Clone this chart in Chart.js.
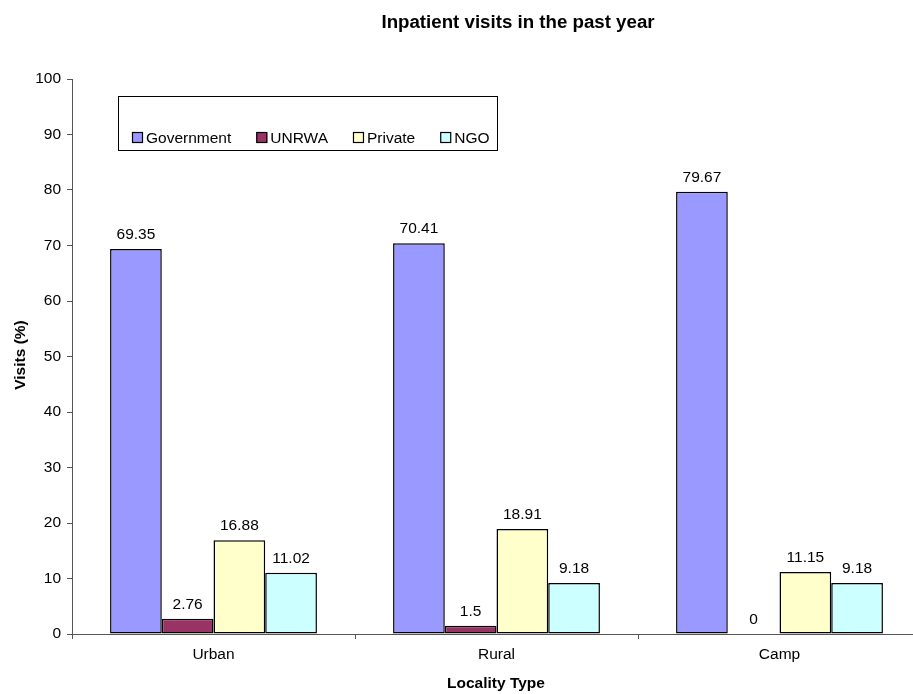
<!DOCTYPE html>
<html>
<head>
<meta charset="utf-8">
<script src="https://cdn.jsdelivr.net/npm/chart.js@4/dist/chart.umd.min.js"></script>
<style>
  html, body { margin: 0; padding: 0; background: #fff; overflow: hidden; }
  #wrap { width: 921px; height: 694px; }
</style>
</head>
<body>
<div id="wrap"><canvas id="c" width="921" height="694"></canvas></div>
<script>
const categories = ["Urban", "Rural", "Camp"];
const government = [69.35, 70.41, 79.67];
const unrwa = [2.76, 1.5, 0];
const privateSector = [16.88, 18.91, 11.15];
const ngo = [11.02, 9.18, 9.18];
const seriesNames = ["Government", "UNRWA", "Private", "NGO"];
const seriesColors = ["#9999FF", "#993366", "#FFFFCC", "#CCFFFF"];
const chartTitle = "Inpatient visits in the past year";
const yTitle = "Visits (%)";
const xTitle = "Locality Type";

const FONT = "Arial, 'Liberation Sans', sans-serif";
const FS = 15.5;

const seriesValues = [government, unrwa, privateSector, ngo];
const datasets = seriesValues.map((vals, i) => ({
  label: seriesNames[i],
  data: vals,
  backgroundColor: seriesColors[i],
  borderColor: "#000",
  borderWidth: 1.5,
  borderSkipped: false,
  categoryPercentage: 0.731,
  barPercentage: 1.0
}));

const decorPlugin = {
  id: "decor",
  afterDatasetsDraw(chart) {
    const ctx = chart.ctx;
    ctx.save();
    // data labels
    ctx.font = FS + "px " + FONT;
    ctx.fillStyle = "#000";
    ctx.textAlign = "center";
    ctx.textBaseline = "alphabetic";
    chart.data.datasets.forEach((ds, di) => {
      const meta = chart.getDatasetMeta(di);
      meta.data.forEach((bar, j) => {
        ctx.fillText(String(ds.data[j]), bar.x, bar.y - 10);
      });
    });
    // title
    ctx.font = "bold 18.7px " + FONT;
    ctx.fillText(chartTitle, 518, 28);
    // x title
    ctx.font = "bold " + FS + "px " + FONT;
    ctx.fillText(xTitle, 496, 688);
    // y title
    ctx.save();
    ctx.translate(25, 355);
    ctx.rotate(-Math.PI / 2);
    ctx.fillText(yTitle, 0, 0);
    ctx.restore();
    // legend
    const lx = 118, ly = 96, lw = 379, lh = 54;
    ctx.fillStyle = "#fff";
    ctx.fillRect(lx, ly, lw, lh);
    ctx.strokeStyle = "#000";
    ctx.lineWidth = 1;
    ctx.strokeRect(lx + 0.5, ly + 0.5, lw, lh);
    ctx.font = FS + "px " + FONT;
    ctx.textAlign = "left";
    let x = 132;
    const cy = 137.5;
    chart.data.datasets.forEach((ds) => {
      ctx.fillStyle = ds.backgroundColor;
      ctx.fillRect(x, cy - 5.5, 11, 11);
      ctx.strokeStyle = "#000";
      ctx.lineWidth = 1.2;
      ctx.strokeRect(x + 0.5, cy - 5.5 + 0.5, 10, 10);
      ctx.fillStyle = "#000";
      ctx.fillText(ds.label, x + 14, cy + 5.5);
      x += 14 + ctx.measureText(ds.label).width + 25;
    });
    ctx.restore();
  }
};

new Chart(document.getElementById("c"), {
  type: "bar",
  data: { labels: categories, datasets },
  plugins: [decorPlugin],
  options: {
    responsive: false,
    animation: false,
    layout: { padding: { top: 79, left: 0, right: 0, bottom: 0 } },
    plugins: { legend: { display: false }, title: { display: false }, tooltip: { enabled: false } },
    scales: {
      x: {
        grid: { offset: true, drawOnChartArea: false, drawTicks: true, tickLength: 5, color: "#555" },
        border: { color: "#555", width: 1 },
        ticks: { color: "#000", font: { family: FONT, size: FS }, padding: 6 },
        afterFit(scale) { scale.height = 60; }
      },
      y: {
        min: 0, max: 100,
        grid: { drawOnChartArea: false, drawTicks: true, tickLength: 5, color: "#555" },
        border: { color: "#555", width: 1 },
        ticks: { stepSize: 10, color: "#000", font: { family: FONT, size: FS }, padding: 6 },
        afterFit(scale) { scale.width = 72; }
      }
    }
  }
});
</script>
</body>
</html>
